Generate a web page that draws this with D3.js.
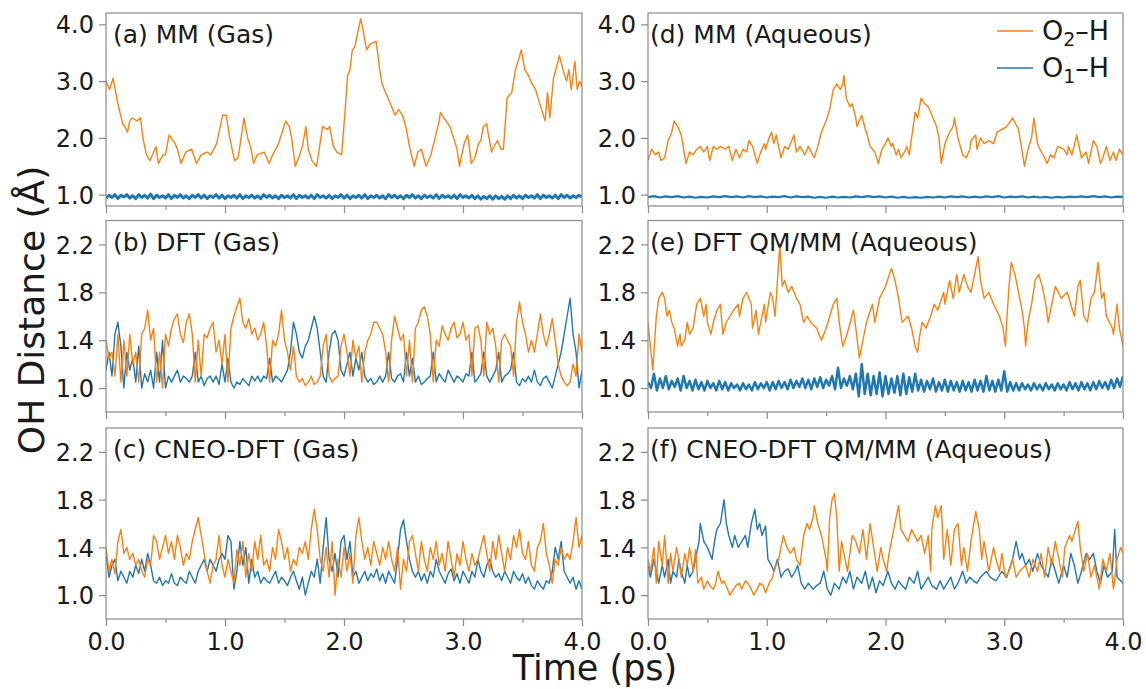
<!DOCTYPE html>
<html><head><meta charset="utf-8">
<script src="https://cdn.jsdelivr.net/npm/d3@7"></script>
<style>
body{margin:0;background:#fff}
text{font-family:"DejaVu Sans",sans-serif;fill:#1a1a1a}
</style>
</head><body>
<svg id="chart" width="1146" height="689"></svg>
<script>
// ---------------- DATA ----------------
const timeTicks = [0, 0.5, 1, 1.5, 2, 2.5, 3, 3.5, 4];
const timeLabels = ["0.0", "1.0", "2.0", "3.0", "4.0"];
const yTicksMM = [1.0, 2.0, 3.0, 4.0];
const yTicksQM = [1.0, 1.4, 1.8, 2.2];

// (a) MM gas, O2-H : [time ps, distance]
const aO2 = [[0,3.0],[0.03,2.85],[0.06,3.05],[0.10,2.6],[0.14,2.25],[0.16,2.2],[0.18,2.1],[0.20,2.3],[0.22,2.35],[0.26,2.3],[0.29,2.35],[0.31,2.0],[0.34,1.7],[0.37,1.6],[0.40,1.75],[0.42,1.85],[0.44,1.55],[0.48,1.7],[0.50,1.7],[0.53,2.05],[0.58,1.9],[0.60,1.8],[0.63,1.55],[0.67,1.75],[0.72,1.8],[0.76,1.55],[0.80,1.7],[0.85,1.75],[0.88,1.7],[0.93,1.9],[0.98,2.4],[1.01,2.4],[1.04,2.0],[1.08,1.6],[1.11,1.65],[1.16,2.35],[1.19,2.0],[1.22,1.8],[1.24,1.55],[1.27,1.7],[1.33,1.75],[1.37,1.55],[1.40,1.7],[1.45,1.9],[1.48,2.1],[1.51,2.3],[1.54,2.2],[1.56,2.0],[1.59,1.5],[1.62,1.65],[1.65,1.85],[1.68,2.2],[1.70,1.8],[1.73,1.6],[1.77,1.5],[1.82,2.2],[1.86,2.15],[1.88,2.2],[1.91,1.85],[1.94,1.75],[1.98,1.7],[2.01,2.5],[2.03,3.1],[2.05,3.2],[2.07,3.55],[2.09,3.6],[2.12,3.9],[2.14,4.1],[2.16,3.9],[2.19,3.55],[2.22,3.65],[2.27,3.7],[2.30,3.2],[2.32,2.95],[2.35,2.8],[2.38,2.65],[2.39,2.6],[2.43,2.4],[2.46,2.5],[2.49,2.4],[2.52,2.2],[2.55,1.85],[2.59,1.5],[2.62,1.75],[2.65,1.8],[2.69,1.5],[2.73,1.7],[2.76,1.95],[2.80,2.3],[2.81,2.45],[2.84,2.35],[2.89,2.2],[2.92,2.0],[2.95,1.8],[2.97,1.5],[3.01,1.9],[3.04,2.05],[3.07,1.55],[3.10,1.65],[3.13,1.9],[3.15,1.95],[3.17,2.2],[3.20,2.25],[3.21,2.1],[3.24,1.75],[3.26,1.85],[3.29,1.95],[3.32,1.8],[3.34,1.8],[3.37,2.7],[3.41,2.8],[3.44,3.2],[3.47,3.4],[3.49,3.55],[3.52,3.2],[3.55,3.1],[3.58,2.95],[3.61,2.85],[3.63,2.7],[3.69,2.3],[3.71,2.8],[3.73,2.35],[3.76,3.05],[3.78,3.2],[3.81,3.45],[3.84,3.2],[3.87,3.0],[3.89,3.2],[3.91,2.85],[3.94,3.35],[3.96,2.85],[3.98,3.0],[4.0,2.9]];
// (a) MM gas, O1-H : evenly spaced over 0-4 ps
const aO1 = [0.94,0.99,0.95,1.00,0.93,0.99,0.96,1.00,0.94,0.98,0.93,1.00,0.95,0.99,0.94,1.01,0.93,0.99,0.95,0.98,0.94,1.00,0.93,0.99,0.95,1.00,0.94,0.98,0.93,0.99,0.95,1.00,0.94,0.99,0.93,0.98,0.95,1.00,0.94,0.99,0.93,0.98,0.95,0.99,0.94,1.00,0.93,0.98,0.95,0.99,0.94,0.98,0.93,1.00,0.95,0.99,0.94,0.98,0.93,0.99,0.95,0.98,0.94,1.00,0.93,0.99,0.95,0.98,0.94,0.99,0.93,1.00,0.95,0.98,0.94,0.99,0.93,0.98,0.95,1.00,0.94,0.99,0.93,0.98,0.95,0.99,0.94,1.00,0.93,0.98,0.95,0.99,0.94,0.98,0.93,1.00,0.95,0.99,0.94,0.98,0.93,0.99,0.95,1.00,0.94,0.98,0.93,0.99,0.95,0.98,0.94,1.00,0.93,0.99,0.95,0.98,0.94,0.99,0.93,1.00,0.95,0.98,0.94,0.99,0.93,0.98,0.92,0.97,0.93,0.98,0.92,0.98,0.93,0.97,0.92,0.98,0.93,0.99,0.94,0.98,0.93,0.99,0.95,0.98,0.94,1.00,0.93,0.99,0.95,0.98,0.94,0.99,0.93,1.00,0.95,0.99,0.94,0.98,0.95,0.99,0.96];

// (b) DFT gas, evenly spaced (0.025 ps)
const bO2 = [1.4,1.25,1.3,1.1,1.45,1.05,1.4,1.1,1.45,1.2,1.3,1.05,1.45,1.5,1.65,1.4,1.5,1.05,1.3,1.0,1.45,1.35,1.5,1.58,1.62,1.45,1.38,1.55,1.62,1.45,1.05,1.4,1.1,1.45,1.42,1.5,1.55,1.3,1.4,1.2,1.45,1.05,1.5,1.6,1.68,1.75,1.55,1.5,1.58,1.45,1.5,1.4,1.45,1.55,1.35,1.05,1.4,1.35,1.45,1.65,1.4,1.3,1.15,1.35,1.1,1.05,1.08,1.02,1.05,1.1,1.03,1.05,1.1,1.35,1.45,1.1,1.05,1.08,1.1,1.35,1.45,1.3,1.1,1.4,1.25,1.35,1.05,1.3,1.4,1.45,1.55,1.55,1.5,1.45,1.3,1.05,1.4,1.6,1.5,1.4,1.45,1.1,1.4,1.05,1.5,1.55,1.65,1.68,1.6,1.45,1.05,1.4,1.35,1.52,1.45,1.4,1.5,1.55,1.42,1.45,1.55,1.4,1.45,1.1,1.5,1.52,1.4,1.1,1.55,1.45,1.5,1.35,1.05,1.4,1.45,1.4,1.35,1.1,1.55,1.72,1.55,1.45,1.3,1.4,1.3,1.45,1.62,1.45,1.35,1.45,1.58,1.4,1.2,1.1,1.05,1.02,1.05,1.2,1.1,1.45,1.3];
const bO1 = [1.15,1.3,1.1,1.45,1.55,1.35,1.0,1.3,1.15,1.25,1.05,1.35,1.0,1.12,1.05,1.15,1.0,1.3,1.05,1.4,1.0,1.1,1.05,1.1,1.15,1.05,1.1,1.08,1.05,1.1,1.3,1.05,1.1,1.02,1.08,1.1,1.05,1.1,1.03,1.2,1.05,1.25,1.05,1.0,1.05,1.03,1.08,1.05,1.02,1.1,1.06,1.1,1.05,1.1,1.08,1.25,1.05,1.1,1.08,1.05,1.1,1.15,1.3,1.55,1.45,1.3,1.25,1.35,1.4,1.5,1.6,1.5,1.3,1.1,1.05,1.3,1.45,1.48,1.4,1.15,1.1,1.2,1.3,1.1,1.25,1.15,1.3,1.1,1.05,1.08,1.03,1.05,1.1,1.05,1.1,1.3,1.08,1.05,1.1,1.12,1.05,1.3,1.1,1.25,1.05,1.1,1.03,1.05,1.08,1.1,1.3,1.05,1.12,1.08,1.05,1.15,1.1,1.05,1.1,1.08,1.05,1.12,1.1,1.3,1.05,1.08,1.12,1.3,1.1,1.05,1.1,1.15,1.3,1.05,1.1,1.12,1.15,1.3,1.05,1.02,1.08,1.05,1.1,1.05,1.15,1.05,1.02,1.08,1.1,1.05,1.0,1.1,1.2,1.3,1.45,1.6,1.75,1.45,1.3,1.0,1.15];

// (c) CNEO-DFT gas, evenly spaced (0.025 ps)
const cO2 = [1.4,1.2,1.3,1.18,1.45,1.55,1.35,1.4,1.3,1.35,1.25,1.3,1.2,1.15,1.3,1.25,1.5,1.45,1.3,1.4,1.5,1.35,1.45,1.3,1.5,1.4,1.25,1.35,1.3,1.45,1.55,1.65,1.5,1.35,1.2,1.1,1.25,1.3,1.5,1.25,1.15,1.3,1.2,1.1,1.38,1.25,1.45,1.15,1.35,1.2,1.45,1.3,1.5,1.25,1.3,1.2,1.4,1.3,1.55,1.45,1.3,1.4,1.2,1.3,1.25,1.4,1.35,1.45,1.3,1.55,1.72,1.55,1.3,1.2,1.4,1.15,1.45,1.0,1.3,1.15,1.4,1.2,1.35,1.1,1.5,1.65,1.45,1.3,1.4,1.25,1.45,1.35,1.25,1.4,1.3,1.45,1.3,1.2,1.4,1.05,1.3,1.2,1.45,1.5,1.35,1.2,1.45,1.3,1.2,1.4,1.3,1.45,1.25,1.35,1.2,1.45,1.3,1.15,1.35,1.25,1.45,1.3,1.2,1.35,1.25,1.3,1.4,1.5,1.35,1.2,1.45,1.3,1.5,1.35,1.2,1.4,1.3,1.5,1.4,1.55,1.35,1.3,1.45,1.25,1.2,1.4,1.45,1.6,1.35,1.25,1.1,1.3,1.25,1.4,1.3,1.35,1.3,1.45,1.65,1.4,1.5];
const cO1 = [1.35,1.15,1.25,1.3,1.12,1.2,1.15,1.1,1.2,1.15,1.25,1.18,1.3,1.2,1.35,1.25,1.12,1.1,1.15,1.08,1.12,1.1,1.18,1.1,1.08,1.15,1.12,1.1,1.2,1.15,1.1,1.2,1.25,1.3,1.2,1.3,1.25,1.2,1.3,1.35,1.3,1.5,1.45,1.05,1.2,1.45,1.25,1.4,1.1,1.3,1.15,1.2,1.1,1.15,1.12,1.1,1.15,1.2,1.1,1.15,1.12,1.08,1.15,1.2,1.12,1.05,1.15,1.0,1.1,1.2,1.15,1.3,1.1,1.4,1.65,1.3,1.2,1.35,1.15,1.45,1.5,1.3,1.45,1.15,1.2,1.1,1.15,1.2,1.12,1.18,1.15,1.22,1.12,1.18,1.1,1.2,1.15,1.1,1.3,1.55,1.63,1.45,1.3,1.2,1.15,1.2,1.12,1.18,1.1,1.2,1.15,1.3,1.2,1.15,1.1,1.18,1.22,1.12,1.18,1.1,1.2,1.15,1.1,1.2,1.15,1.3,1.2,1.15,1.25,1.3,1.2,1.15,1.18,1.12,1.2,1.15,1.1,1.2,1.15,1.12,1.18,1.1,1.15,1.08,1.05,1.12,1.08,1.05,1.12,1.1,1.2,1.4,1.3,1.45,1.2,1.15,1.1,1.15,1.05,1.12,1.05];

// (d) MM aqueous
const dO2 = [[0,1.6],[0.03,1.8],[0.06,1.7],[0.09,1.75],[0.11,1.6],[0.14,1.65],[0.17,1.95],[0.20,2.1],[0.22,2.3],[0.25,2.2],[0.28,2.05],[0.30,1.8],[0.32,1.55],[0.35,1.75],[0.38,1.7],[0.41,1.8],[0.44,1.85],[0.47,1.75],[0.50,1.85],[0.52,1.6],[0.55,1.85],[0.58,1.8],[0.61,1.85],[0.65,1.8],[0.68,1.85],[0.71,1.6],[0.74,1.8],[0.77,1.65],[0.80,1.8],[0.83,1.75],[0.85,1.95],[0.88,1.85],[0.92,1.55],[0.94,1.7],[0.98,1.9],[0.99,1.8],[1.02,2.0],[1.04,2.1],[1.06,1.9],[1.08,2.05],[1.12,1.65],[1.15,1.85],[1.18,1.8],[1.23,2.05],[1.25,1.75],[1.28,1.85],[1.32,1.7],[1.35,1.85],[1.40,1.65],[1.43,1.85],[1.46,2.1],[1.50,2.3],[1.53,2.5],[1.56,2.85],[1.59,2.95],[1.62,2.85],[1.64,2.95],[1.65,3.1],[1.67,2.7],[1.70,2.55],[1.72,2.6],[1.75,2.35],[1.76,2.2],[1.80,2.4],[1.83,2.15],[1.84,2.1],[1.87,1.85],[1.91,1.75],[1.94,1.55],[1.97,1.8],[2.00,1.9],[2.02,2.0],[2.05,1.85],[2.06,1.9],[2.09,1.7],[2.11,1.8],[2.13,1.65],[2.16,1.75],[2.18,1.85],[2.20,1.7],[2.22,2.0],[2.25,2.45],[2.27,2.35],[2.30,2.7],[2.33,2.6],[2.36,2.55],[2.39,2.4],[2.43,2.2],[2.45,2.0],[2.47,1.55],[2.50,1.9],[2.54,2.1],[2.57,2.2],[2.58,2.35],[2.61,2.0],[2.65,1.7],[2.68,1.65],[2.71,1.8],[2.72,1.95],[2.76,2.05],[2.77,1.8],[2.80,2.0],[2.83,1.9],[2.87,1.95],[2.91,1.9],[2.94,2.1],[3.02,2.2],[3.07,2.35],[3.12,2.15],[3.14,1.9],[3.17,1.5],[3.20,1.8],[3.23,2.0],[3.25,2.35],[3.28,1.9],[3.30,1.8],[3.34,1.65],[3.36,1.55],[3.39,1.7],[3.42,1.65],[3.45,1.85],[3.50,1.8],[3.53,1.7],[3.54,1.85],[3.57,1.7],[3.61,2.05],[3.62,1.95],[3.65,1.65],[3.69,1.75],[3.71,1.55],[3.75,1.95],[3.78,1.85],[3.81,1.55],[3.83,1.65],[3.86,1.85],[3.89,1.6],[3.92,1.75],[3.94,1.6],[3.97,1.8],[4.0,1.7]];
// evenly spaced (0.05 ps)
const dO1 = [0.955,0.975,0.950,0.970,0.955,0.975,0.950,0.965,0.945,0.960,0.950,0.970,0.955,0.975,0.955,0.970,0.950,0.975,0.955,0.970,0.950,0.965,0.955,0.975,0.950,0.970,0.955,0.965,0.945,0.960,0.945,0.965,0.950,0.960,0.950,0.970,0.955,0.975,0.955,0.970,0.950,0.965,0.945,0.960,0.945,0.955,0.945,0.960,0.950,0.965,0.950,0.970,0.955,0.970,0.950,0.965,0.950,0.970,0.955,0.975,0.950,0.965,0.955,0.970,0.950,0.965,0.950,0.960,0.945,0.960,0.950,0.965,0.955,0.970,0.955,0.975,0.955,0.970,0.950,0.965,0.960];

// (e) DFT QM/MM aqueous
const eO2 = [[0,1.55],[0.04,1.15],[0.05,1.3],[0.07,1.6],[0.09,1.75],[0.12,1.8],[0.14,1.75],[0.16,1.6],[0.18,1.65],[0.20,1.55],[0.22,1.5],[0.25,1.35],[0.27,1.45],[0.28,1.35],[0.31,1.4],[0.33,1.55],[0.35,1.45],[0.38,1.5],[0.41,1.7],[0.44,1.75],[0.47,1.6],[0.49,1.7],[0.50,1.55],[0.53,1.45],[0.55,1.55],[0.58,1.65],[0.61,1.7],[0.63,1.45],[0.66,1.55],[0.69,1.6],[0.72,1.65],[0.76,1.7],[0.77,1.6],[0.80,1.75],[0.83,1.8],[0.87,1.7],[0.88,1.5],[0.91,1.65],[0.93,1.45],[0.98,1.7],[0.99,1.55],[1.03,1.8],[1.05,1.75],[1.07,1.6],[1.09,1.9],[1.11,2.2],[1.13,1.85],[1.15,1.9],[1.18,1.8],[1.21,1.85],[1.25,1.75],[1.28,1.7],[1.31,1.55],[1.34,1.6],[1.37,1.55],[1.42,1.5],[1.46,1.4],[1.50,1.5],[1.53,1.6],[1.56,1.7],[1.59,1.75],[1.61,1.55],[1.64,1.35],[1.66,1.4],[1.69,1.5],[1.73,1.65],[1.75,1.5],[1.78,1.25],[1.80,1.35],[1.84,1.55],[1.89,1.7],[1.91,1.55],[1.95,1.75],[2.00,1.85],[2.05,2.0],[2.08,1.9],[2.11,1.75],[2.14,1.55],[2.19,1.6],[2.22,1.5],[2.25,1.35],[2.27,1.3],[2.29,1.45],[2.31,1.55],[2.34,1.5],[2.38,1.6],[2.41,1.7],[2.44,1.65],[2.49,1.8],[2.50,1.7],[2.54,1.9],[2.57,1.75],[2.60,1.95],[2.62,1.8],[2.66,1.95],[2.69,1.85],[2.72,1.8],[2.78,2.1],[2.80,1.9],[2.83,1.75],[2.87,1.8],[2.91,1.7],[2.96,1.6],[2.99,1.5],[3.01,1.35],[3.02,1.55],[3.04,1.85],[3.06,2.05],[3.09,1.95],[3.12,1.8],[3.15,1.65],[3.17,1.5],[3.18,1.35],[3.20,1.55],[3.23,1.7],[3.26,1.9],[3.29,1.95],[3.32,1.85],[3.35,1.7],[3.37,1.55],[3.40,1.7],[3.43,1.85],[3.48,1.75],[3.53,1.8],[3.56,1.7],[3.59,1.6],[3.62,1.85],[3.64,1.9],[3.67,1.6],[3.70,1.55],[3.73,1.75],[3.76,1.8],[3.79,2.05],[3.82,1.75],[3.84,1.8],[3.86,1.6],[3.91,1.5],[3.92,1.45],[3.95,1.7],[3.97,1.5],[4.0,1.35]];
// evenly spaced (0.025 ps)
const eO1 = [1.05,1.0,1.12,0.98,1.08,1.0,1.1,0.99,1.06,1.01,1.08,0.98,1.1,1.0,1.06,0.98,1.07,0.99,1.05,0.98,1.06,1.0,1.04,0.98,1.06,0.99,1.05,0.98,1.04,1.0,1.03,0.98,1.04,0.99,1.03,0.98,1.05,0.99,1.04,1.0,1.05,0.98,1.05,0.99,1.06,1.0,1.05,0.99,1.07,1.0,1.06,1.01,1.08,1.0,1.07,0.99,1.08,1.01,1.09,1.0,1.07,1.02,1.1,0.99,1.17,1.0,1.08,1.02,1.1,0.99,1.12,0.93,1.2,0.95,1.12,0.94,1.1,0.95,1.13,0.93,1.1,0.95,1.08,0.96,1.1,0.94,1.12,0.95,1.09,0.97,1.12,0.98,1.07,0.97,1.06,0.99,1.08,0.97,1.05,0.98,1.07,0.97,1.06,0.98,1.05,0.97,1.06,0.98,1.05,0.97,1.07,0.98,1.06,0.97,1.1,0.98,1.06,0.97,1.07,0.98,1.14,0.97,1.05,0.98,1.04,0.98,1.04,0.99,1.03,0.98,1.04,0.99,1.03,0.98,1.04,0.99,1.03,0.98,1.04,0.99,1.03,0.98,1.05,0.99,1.04,0.98,1.05,0.99,1.04,0.98,1.05,0.99,1.06,1.0,1.05,0.99,1.07,1.0,1.08,1.01,1.1];

// (f) CNEO-DFT QM/MM aqueous
const fO2 = [[0,1.3],[0.02,1.2],[0.05,1.4],[0.07,1.1],[0.09,1.45],[0.12,1.25],[0.14,1.5],[0.17,1.1],[0.19,1.35],[0.21,1.2],[0.24,1.4],[0.26,1.3],[0.28,1.15],[0.31,1.35],[0.33,1.25],[0.35,1.4],[0.38,1.2],[0.40,1.38],[0.42,1.1],[0.45,1.15],[0.47,1.05],[0.50,1.12],[0.52,1.08],[0.55,1.05],[0.57,1.1],[0.59,1.2],[0.62,1.1],[0.64,1.12],[0.67,1.05],[0.69,1.0],[0.72,1.05],[0.74,1.08],[0.77,1.1],[0.79,1.05],[0.82,1.12],[0.84,1.1],[0.87,1.05],[0.89,1.0],[0.92,1.05],[0.94,1.1],[0.97,1.08],[0.99,1.02],[1.02,1.1],[1.05,1.15],[1.06,1.2],[1.10,1.3],[1.14,1.5],[1.17,1.4],[1.20,1.35],[1.23,1.4],[1.25,1.3],[1.28,1.25],[1.31,1.5],[1.34,1.6],[1.36,1.55],[1.39,1.65],[1.40,1.75],[1.43,1.6],[1.46,1.5],[1.50,1.3],[1.51,1.2],[1.53,1.65],[1.55,1.8],[1.57,1.85],[1.59,1.65],[1.61,1.2],[1.63,1.45],[1.65,1.35],[1.68,1.2],[1.70,1.35],[1.72,1.5],[1.75,1.45],[1.78,1.35],[1.81,1.55],[1.84,1.3],[1.87,1.6],[1.90,1.4],[1.93,1.2],[1.96,1.4],[1.98,1.3],[2.01,1.2],[2.03,1.35],[2.06,1.5],[2.11,1.75],[2.13,1.55],[2.16,1.5],[2.19,1.45],[2.22,1.55],[2.27,1.45],[2.30,1.5],[2.33,1.35],[2.36,1.5],[2.38,1.2],[2.39,1.55],[2.42,1.75],[2.44,1.65],[2.47,1.75],[2.49,1.3],[2.52,1.55],[2.55,1.25],[2.58,1.55],[2.61,1.6],[2.64,1.25],[2.66,1.4],[2.69,1.2],[2.72,1.45],[2.76,1.7],[2.79,1.55],[2.81,1.3],[2.83,1.45],[2.87,1.2],[2.91,1.4],[2.93,1.3],[2.96,1.2],[2.98,1.35],[3.01,1.15],[3.04,1.2],[3.07,1.3],[3.10,1.15],[3.13,1.2],[3.18,1.25],[3.21,1.15],[3.24,1.3],[3.28,1.2],[3.31,1.35],[3.34,1.15],[3.37,1.4],[3.40,1.25],[3.43,1.45],[3.46,1.3],[3.49,1.15],[3.51,1.4],[3.55,1.5],[3.57,1.45],[3.62,1.62],[3.64,1.4],[3.67,1.2],[3.70,1.35],[3.73,1.15],[3.76,1.25],[3.80,1.05],[3.83,1.3],[3.86,1.2],[3.89,1.35],[3.92,1.05],[3.95,1.3],[3.98,1.4],[4.0,1.35]];
const fO1 = [[0,1.25],[0.02,1.15],[0.05,1.3],[0.07,1.2],[0.09,1.1],[0.12,1.25],[0.14,1.15],[0.17,1.3],[0.19,1.1],[0.21,1.2],[0.24,1.15],[0.26,1.3],[0.28,1.2],[0.31,1.1],[0.33,1.25],[0.35,1.15],[0.38,1.2],[0.40,1.3],[0.43,1.45],[0.44,1.6],[0.47,1.45],[0.50,1.4],[0.54,1.3],[0.56,1.45],[0.58,1.55],[0.61,1.6],[0.64,1.8],[0.66,1.6],[0.68,1.5],[0.71,1.4],[0.73,1.5],[0.76,1.4],[0.79,1.45],[0.82,1.5],[0.84,1.4],[0.87,1.6],[0.90,1.72],[0.92,1.55],[0.94,1.6],[0.96,1.5],[0.99,1.58],[1.01,1.3],[1.04,1.25],[1.06,1.2],[1.09,1.3],[1.12,1.15],[1.15,1.2],[1.18,1.22],[1.21,1.15],[1.24,1.2],[1.26,1.25],[1.29,1.1],[1.32,1.05],[1.35,1.1],[1.39,1.05],[1.42,1.08],[1.45,1.1],[1.48,1.2],[1.51,1.05],[1.54,1.0],[1.57,1.1],[1.61,1.05],[1.64,1.15],[1.67,1.1],[1.70,1.2],[1.73,1.05],[1.76,1.15],[1.80,1.1],[1.83,1.2],[1.86,1.05],[1.89,1.15],[1.92,1.02],[1.95,1.12],[1.98,1.08],[2.02,1.2],[2.05,1.1],[2.08,1.05],[2.11,1.12],[2.14,1.08],[2.17,1.05],[2.20,1.15],[2.24,1.1],[2.27,1.2],[2.30,1.05],[2.33,1.1],[2.36,1.15],[2.39,1.08],[2.43,1.05],[2.46,1.12],[2.49,1.05],[2.52,1.1],[2.55,1.15],[2.58,1.05],[2.61,1.1],[2.65,1.2],[2.68,1.1],[2.71,1.15],[2.74,1.12],[2.77,1.1],[2.80,1.15],[2.85,1.2],[2.88,1.15],[2.93,1.12],[2.98,1.2],[3.02,1.15],[3.07,1.3],[3.10,1.45],[3.13,1.3],[3.15,1.35],[3.18,1.25],[3.21,1.3],[3.24,1.2],[3.28,1.35],[3.31,1.25],[3.34,1.2],[3.37,1.15],[3.40,1.3],[3.43,1.2],[3.46,1.1],[3.50,1.25],[3.53,1.15],[3.56,1.35],[3.59,1.25],[3.62,1.1],[3.65,1.2],[3.69,1.35],[3.72,1.3],[3.75,1.35],[3.78,1.2],[3.81,1.1],[3.84,1.25],[3.87,1.15],[3.91,1.2],[3.93,1.55],[3.95,1.15],[3.98,1.12],[4.0,1.1]];

// ---------------- LAYOUT ----------------
const colX = [[106, 582], [648, 1123]];
const rowY = [[13, 206], [220.5, 412], [428, 619]];
const ORANGE = "#ff7f0e", BLUE = "#1f77b4", SPINE = "#8a8a8a";

const toPairs = a => (typeof a[0] === "number") ? a.map((v, i) => [i * 4 / (a.length - 1), v]) : a;

const panels = [
  {title: "(a) MM (Gas)", col: 0, row: 0, dom: [0.8, 4.2], ticks: yTicksMM, o2: aO2, o1: aO1, tdx: 7, w1: 3.0},
  {title: "(b) DFT (Gas)", col: 0, row: 1, dom: [0.8, 2.4], ticks: yTicksQM, o2: bO2, o1: bO1, tdx: 7, w1: 1.4},
  {title: "(c) CNEO-DFT (Gas)", col: 0, row: 2, dom: [0.8, 2.4], ticks: yTicksQM, o2: cO2, o1: cO1, tdx: 7, w1: 1.4},
  {title: "(d) MM (Aqueous)", col: 1, row: 0, dom: [0.8, 4.2], ticks: yTicksMM, o2: dO2, o1: dO1, tdx: 2, w1: 2.2, legend: true},
  {title: "(e) DFT QM/MM (Aqueous)", col: 1, row: 1, dom: [0.8, 2.4], ticks: yTicksQM, o2: eO2, o1: eO1, tdx: 2, w1: 2.5},
  {title: "(f) CNEO-DFT QM/MM (Aqueous)", col: 1, row: 2, dom: [0.8, 2.4], ticks: yTicksQM, o2: fO2, o1: fO1, tdx: 2, w1: 1.4}
];

const svg = d3.select("#chart");
const TICK_FS = 24, TITLE_FS = 25;

panels.forEach((p, k) => {
  const [x0, x1] = colX[p.col], [y0, y1] = rowY[p.row];
  const x = d3.scaleLinear().domain([0, 4]).range([x0, x1]);
  const y = d3.scaleLinear().domain(p.dom).range([y1, y0]);
  const g = svg.append("g");
  const cid = "clip" + k;
  svg.append("clipPath").attr("id", cid).append("rect")
    .attr("x", x0).attr("y", y0).attr("width", x1 - x0).attr("height", y1 - y0);

  const line = d3.line().x(d => x(d[0])).y(d => y(d[1]));
  const lg = g.append("g").attr("clip-path", `url(#${cid})`);
  lg.append("path").attr("d", line(toPairs(p.o1))).attr("fill", "none")
    .attr("stroke", BLUE).attr("stroke-width", p.w1).attr("stroke-linejoin", "round");
  lg.append("path").attr("d", line(toPairs(p.o2))).attr("fill", "none")
    .attr("stroke", ORANGE).attr("stroke-width", 1.4).attr("stroke-linejoin", "round");

  // frame
  g.append("rect").attr("x", x0).attr("y", y0).attr("width", x1 - x0).attr("height", y1 - y0)
    .attr("fill", "none").attr("stroke", SPINE).attr("stroke-width", 1.2);

  // x axis ticks
  const xa = d3.axisBottom(x).tickValues(timeTicks).tickSize(0).tickFormat("");
  const xg = g.append("g").attr("transform", `translate(0,${y1})`).call(xa);
  xg.select(".domain").remove();
  xg.selectAll(".tick").append("line").attr("y1", 0)
    .attr("y2", d => Number.isInteger(d) ? 7 : 4).attr("stroke", SPINE).attr("stroke-width", 1.2);
  if (p.row === 2) {
    xg.selectAll(".tick").filter(d => Number.isInteger(d)).append("text")
      .attr("y", 31).attr("text-anchor", "middle").attr("font-size", TICK_FS)
      .text(d => timeLabels[d]);
  }

  // y axis
  const ya = d3.axisLeft(y).tickValues(p.ticks).tickSize(0).tickFormat("");
  const yg = g.append("g").attr("transform", `translate(${x0},0)`).call(ya);
  yg.select(".domain").remove();
  yg.selectAll(".tick").append("line").attr("x1", 0).attr("x2", -7)
    .attr("stroke", SPINE).attr("stroke-width", 1.2);
  yg.selectAll(".tick").append("text").attr("x", -12).attr("dy", "0.36em")
    .attr("text-anchor", "end").attr("font-size", TICK_FS).text(d => d3.format(".1f")(d));

  // title
  g.append("text").attr("x", x0 + p.tdx).attr("y", y0 + 30).attr("font-size", TITLE_FS).text(p.title);

  if (p.legend) {
    const items = [{c: ORANGE, sub: "2"}, {c: BLUE, sub: "1"}];
    items.forEach((it, i) => {
      const ly = 31 + i * 37;
      g.append("line").attr("x1", 997).attr("x2", 1033).attr("y1", ly).attr("y2", ly)
        .attr("stroke", it.c).attr("stroke-width", 1.6);
      const t = g.append("text").attr("x", 1042).attr("y", ly + 9).attr("font-size", 27);
      t.append("tspan").text("O");
      t.append("tspan").attr("dy", 6).attr("font-size", 19).text(it.sub);
      t.append("tspan").attr("dy", -6).text("\u2013H");
    });
  }
});

// axis labels
svg.append("text").attr("transform", "translate(44,310) rotate(-90)")
  .attr("text-anchor", "middle").attr("font-size", 36).text("OH Distance (\u00c5)");
svg.append("text").attr("x", 595).attr("y", 680)
  .attr("text-anchor", "middle").attr("font-size", 35).text("Time (ps)");
</script>
</body></html>
